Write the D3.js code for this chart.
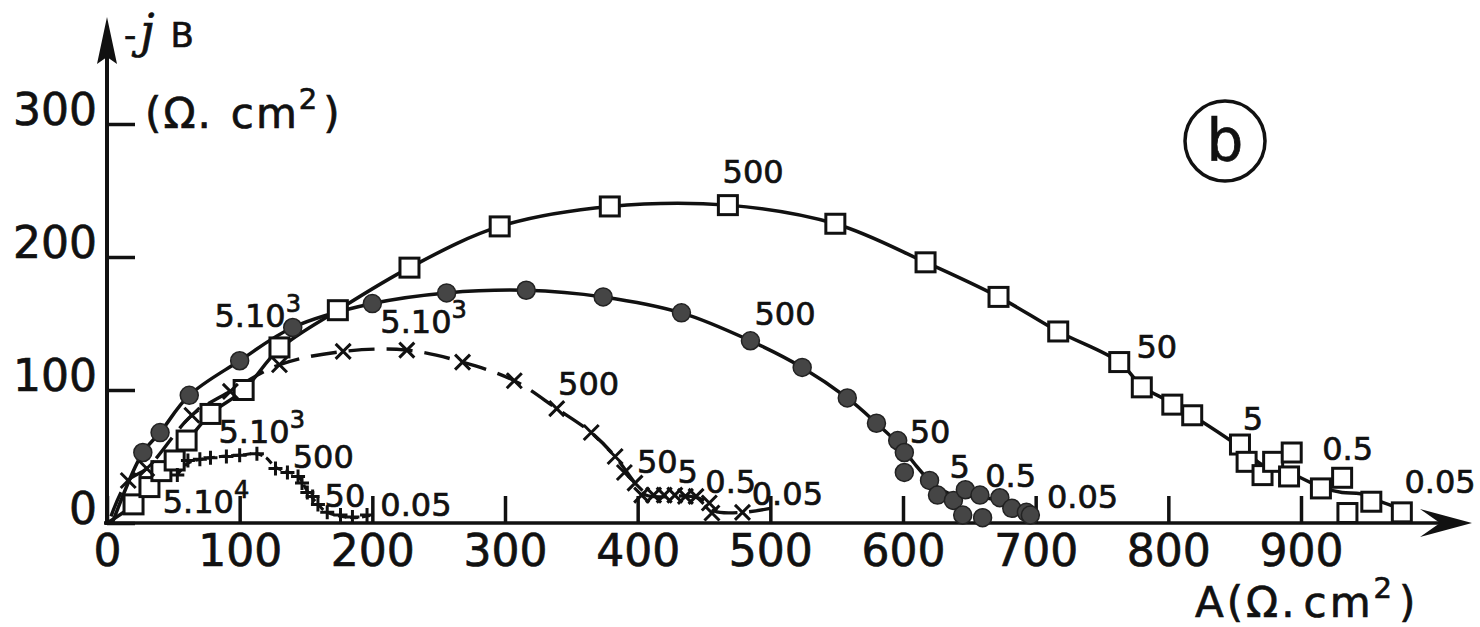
<!DOCTYPE html>
<html>
<head>
<meta charset="utf-8">
<script src="https://cdn.jsdelivr.net/npm/d3@7"></script>
<style>
  html, body { margin: 0; padding: 0; background: #fff; }
  svg { display: block; }
  text { font-family: "DejaVu Sans", sans-serif; fill: #111; stroke: #111; stroke-width: 0.7px; }
</style>
</head>
<body>
<svg id="chart" width="1480" height="627"></svg>
<script>
// ---------- data (A, -jB) in Ω.cm² ----------
const xTicks = [0, 100, 200, 300, 400, 500, 600, 700, 800, 900];
const yTicks = [0, 100, 200, 300];

const squarePoints = [[20,14],[32,27],[41,39],[51,47],[60,62],[78,82],[103,100],[130,132],[174,160],[228,192],[296,223],[379,238],[468,239],[549,225],[617,196],[672,170],[717,144],[763,121],[780,102],[803,89],[818,81],[854,59],[859,46],[871,36],[879,46],[893,53],[891,35],[915,26],[931,34],[935,7.5],[953,16],[976,8]];
const squareCurve = [[0,0],[20,14],[41,39],[60,61],[78,82],[103,100],[130,131],[174,160],[228,192],[296,223],[379,238],[468,239],[549,225],[617,196],[672,170],[717,144],[763,121],[780,103],[803,90],[854,57],[872,43],[893,37],[915,27],[931,23],[945,22],[960,16],[980,9]];

const circlePoints = [[27,53],[40,68],[62,96],[100,122],[140,147],[200,165],[256,173],[316,175],[374,170],[433,158],[485,137],[524,117],[558,94],[580,75],[596,62],[601,53],[601,38],[620,32],[626,21],[638,17],[647,25],[645,6],[658,21],[660,4],[673,19],[682,11],[693,8],[696,6]];
const circleCurve = [[4,0],[27,53],[40,68],[62,96],[100,122],[140,147],[200,165],[256,173],[316,175],[374,170],[433,158],[485,137],[524,117],[558,94],[580,75],[598,58],[610,43],[622,30],[638,21],[655,20],[672,17],[685,11],[698,5]];

const crossPoints = [[16,32],[30,41],[64,81],[93,99],[130,119],[178,129],[226,130],[268,121],[307,107],[339,86],[365,68],[383,50],[390,38],[398,30],[403,21],[412,21],[420,21],[428,21],[436,20],[444,20],[454,15],[456,7.5],[479,8]];
const crossCurve = [[3,5],[16,32],[30,41],[64,81],[93,99],[130,119],[178,129],[226,130],[268,121],[307,107],[339,86],[365,68],[383,50],[398,30],[406,21],[440,20],[452,16],[458,9],[479,8],[500,11]];

const plusPoints = [[53,36],[61,47],[70,48],[78,49],[90,50],[100,51],[113,52],[127,41],[136,38],[144,35],[147,30],[151,23],[155,20],[159,14],[166,8],[176,6],[185,4.5],[196,6]];
const plusCurve = [[53,36],[61,45],[78,49],[100,51],[113,52],[120,49],[127,42],[144,35],[151,24],[159,14],[166,8],[185,4],[200,6]];

// frequency annotations: text, superscript, anchor (A, -jB) of label's left baseline
const freqLabels = [
  ["500","",464,256], ["50","",776,124], ["5","",856,70], ["0.5","",916,47], ["0.05","",978,22.5],
  ["5.10","3",81,147], ["500","",488,149], ["50","",605,60], ["5","",635,34], ["0.5","",662,27], ["0.05","",708.5,11],
  ["5.10","3",206,143], ["500","",340,96], ["50","",399.5,37.6], ["5","",430,30], ["0.5","",451,22.5], ["0.05","",486,13.5],
  ["5.10","3",84,60],
  ["500","",140,41], ["5.10","4",42,7.5], ["50","",164,12], ["0.05","",206,5]
];

// ---------- drawing ----------
const svg = d3.select("#chart");
const x = d3.scaleLinear().domain([0, 900]).range([107, 1301]);
const y = d3.scaleLinear().domain([0, 300]).range([523, 124]);
const ink = "#111";

// axes with ticks
const gx = svg.append("g").attr("transform", "translate(0,523)")
  .call(d3.axisBottom(x).tickValues(xTicks).tickSize(-27).tickPadding(12).tickFormat(d3.format("d")));
const gy = svg.append("g").attr("transform", "translate(107,0)")
  .call(d3.axisLeft(y).tickValues(yTicks).tickSize(-28).tickPadding(10).tickFormat(d3.format("d")));
[gx, gy].forEach(g => {
  g.select(".domain").remove();
  g.selectAll(".tick line").attr("stroke", ink).attr("stroke-width", 3.5);
  g.selectAll(".tick text").attr("font-size", 44).attr("fill", ink)
    .style("font-family", "'DejaVu Sans', sans-serif");
});
gy.selectAll(".tick text").attr("dy", "0");

// axis lines with arrows
svg.append("line").attr("x1", 107).attr("y1", 525).attr("x2", 107).attr("y2", 55)
  .attr("stroke", ink).attr("stroke-width", 4);
svg.append("path").attr("d", "M107,17 L117,64 L107,57 L97,64 Z").attr("fill", ink);
svg.append("line").attr("x1", 104).attr("y1", 523).attr("x2", 1445).attr("y2", 523)
  .attr("stroke", ink).attr("stroke-width", 3.5);
svg.append("path").attr("d", "M1472,523 L1420,509 L1440,523 L1420,537 Z").attr("fill", ink);

// curves
const line = d3.line().x(d => x(d[0])).y(d => y(d[1])).curve(d3.curveCatmullRom.alpha(0.5));
svg.append("path").datum(squareCurve).attr("d", line).attr("fill", "none")
  .attr("stroke", ink).attr("stroke-width", 3.5);
svg.append("path").datum(circleCurve).attr("d", line).attr("fill", "none")
  .attr("stroke", ink).attr("stroke-width", 3.5);
svg.append("path").datum(crossCurve).attr("d", line).attr("fill", "none")
  .attr("stroke", ink).attr("stroke-width", 3.4).attr("stroke-dasharray", "26,12");
svg.append("path").datum(plusCurve).attr("d", line).attr("fill", "none")
  .attr("stroke", ink).attr("stroke-width", 3).attr("stroke-dasharray", "8,4");

// markers
svg.append("g").selectAll("rect").data(squarePoints).join("rect")
  .attr("x", d => x(d[0]) - 9.5).attr("y", d => y(d[1]) - 9.5)
  .attr("width", 19).attr("height", 19)
  .attr("fill", "#fff").attr("stroke", ink).attr("stroke-width", 3);
svg.append("g").selectAll("circle").data(circlePoints).join("circle")
  .attr("cx", d => x(d[0])).attr("cy", d => y(d[1])).attr("r", 9)
  .attr("fill", "#454545").attr("stroke", "#222").attr("stroke-width", 1.5);
svg.append("g").selectAll("path").data(crossPoints).join("path")
  .attr("d", d => { const cx = x(d[0]), cy = y(d[1]), s = 7.5;
    return `M${cx-s},${cy-s}L${cx+s},${cy+s}M${cx-s},${cy+s}L${cx+s},${cy-s}`; })
  .attr("stroke", ink).attr("stroke-width", 3).attr("fill", "none");
svg.append("g").selectAll("path").data(plusPoints).join("path")
  .attr("d", d => { const cx = x(d[0]), cy = y(d[1]), s = 7;
    return `M${cx-s},${cy}L${cx+s},${cy}M${cx},${cy-s}L${cx},${cy+s}`; })
  .attr("stroke", ink).attr("stroke-width", 3).attr("fill", "none");

// frequency labels
const lg = svg.append("g");
freqLabels.forEach(([t, sup, a, b]) => {
  const tx = lg.append("text").attr("x", x(a)).attr("y", y(b)).attr("font-size", 32).text(t);
  if (sup) tx.append("tspan").attr("dy", -15).attr("font-size", 24).text(sup);
});

// axis titles
const yt = svg.append("text").attr("x", 124).attr("y", 47).attr("font-size", 34);
yt.append("tspan").text("-");
yt.append("tspan").attr("font-style", "italic").style("font-family", "'DejaVu Serif', serif")
  .attr("dx", 4).attr("font-size", 46).text("j");
yt.append("tspan").attr("dx", 16).text("B");
const yu = svg.append("text").attr("x", 145).attr("y", 128).attr("font-size", 42).attr("letter-spacing", 2);
yu.append("tspan").text("(Ω.");
yu.append("tspan").attr("dx", 18).text("cm");
yu.append("tspan").attr("dy", -19).attr("font-size", 29).text("2");
yu.append("tspan").attr("dy", 19).attr("dx", 4).text(")");
const xu = svg.append("text").attr("x", 1195).attr("y", 617).attr("font-size", 42).attr("letter-spacing", 3);
xu.append("tspan").text("A(Ω.");
xu.append("tspan").attr("dx", 6).text("cm");
xu.append("tspan").attr("dy", -19).attr("font-size", 29).text("2");
xu.append("tspan").attr("dy", 19).attr("dx", 4).text(")");

// panel marker (b)
svg.append("circle").attr("cx", 1225).attr("cy", 141).attr("r", 40)
  .attr("fill", "none").attr("stroke", ink).attr("stroke-width", 3.5);
svg.append("text").attr("x", 1225).attr("y", 161).attr("text-anchor", "middle")
  .attr("font-size", 58).text("b");
</script>
</body>
</html>
